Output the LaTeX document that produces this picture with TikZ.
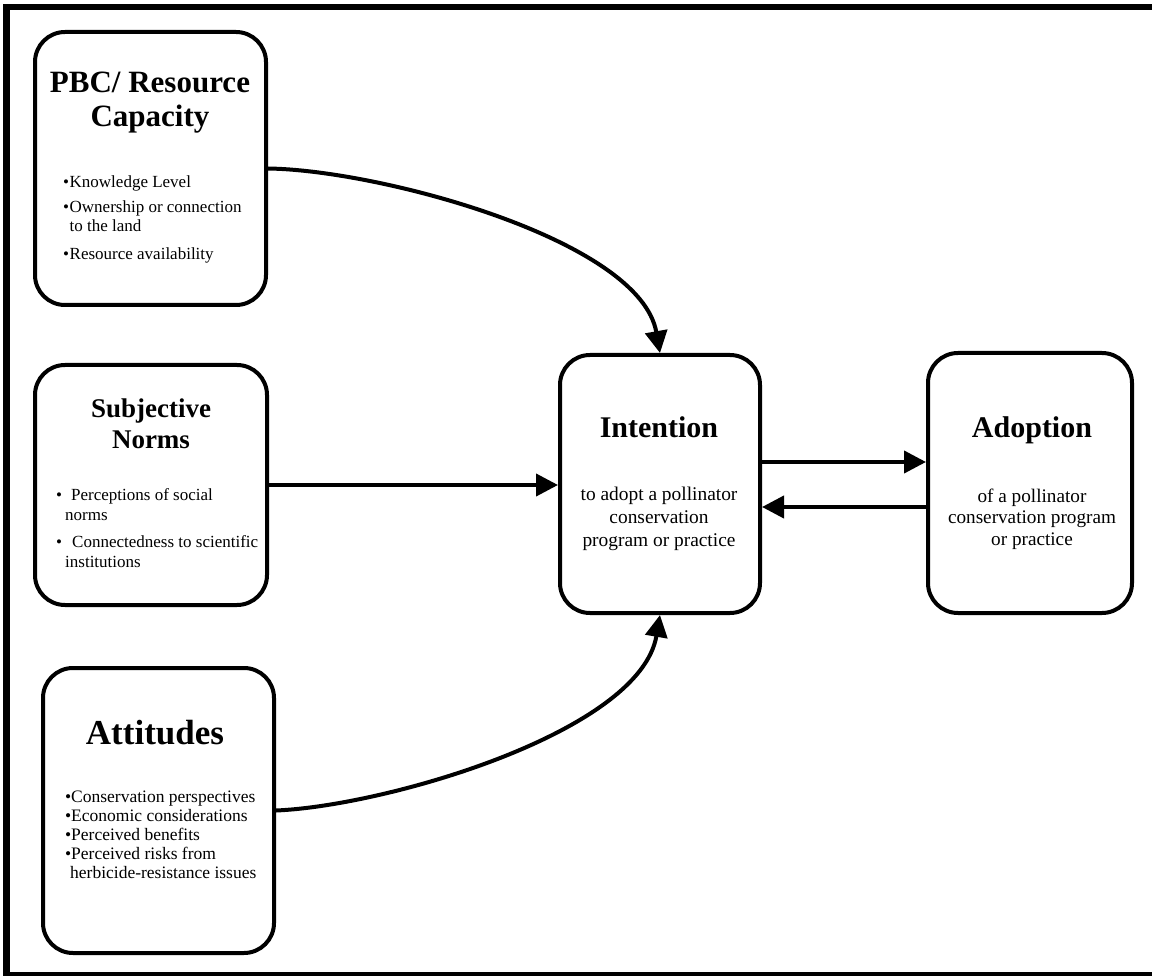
\documentclass[tikz,border=0pt]{standalone}
\usepackage{fontspec}
\setmainfont{Liberation Serif}
\usetikzlibrary{arrows.meta}
\begin{document}
\begin{tikzpicture}[x=1pt,y=-1pt,
  box/.style={draw,line width=4pt,rounded corners=30pt,inner sep=0pt,fill=white},
  ttl/.style={anchor=base,align=center,inner sep=0pt,font=\bfseries},
  bul/.style={anchor=base west,align=left,inner sep=0pt},
  txt/.style={anchor=base,align=center,inner sep=0pt},
  conn/.style={line width=4pt,-{Triangle[length=22pt,width=22pt]}}]
\clip (0,0) rectangle (1152,976);
\fill[white] (0,0) rectangle (1152,976);
\draw[line width=6.5pt] (6.5,7) rectangle (1165,975);

% boxes
\node[box,minimum width=231pt,minimum height=273pt] (pbc) at (150.5,168.5) {};
\node[box,minimum width=232pt,minimum height=240pt] (sn) at (151,485) {};
\node[box,minimum width=231pt,minimum height=285pt] (att) at (158.5,810.5) {};
\node[box,minimum width=200pt,minimum height=258pt] (int) at (660,484) {};
\node[box,minimum width=204pt,minimum height=260pt] (ad) at (1030,483) {};

% titles (base = baseline of the last line)
\node[ttl,font=\bfseries\fontsize{31}{34}\selectfont] (pbct) at (150,127) {PBC/ Resource\\Capacity};
\node[ttl,font=\bfseries\fontsize{27}{32}\selectfont] (snt) at (151,449) {Subjective\\Norms};
\node[ttl,font=\bfseries\fontsize{35}{40}\selectfont] (attt) at (155,744) {Attitudes};
\node[ttl,font=\bfseries\fontsize{30}{34}\selectfont] (intt) at (659,437) {Intention};
\node[ttl,font=\bfseries\fontsize{30}{34}\selectfont] (adt) at (1032,437) {Adoption};

% bodies
\node[txt,font=\fontsize{19.4}{23}\selectfont] (intb) at (659,546) {to adopt a pollinator\\conservation\\program or practice};
\node[txt,font=\fontsize{19.2}{21.5}\selectfont] (adb) at (1032,545) {of a pollinator\\conservation program\\or practice};
\node[bul,font=\fontsize{17}{19}\selectfont] (pbcb) at (63,260) {%
  \makebox[6.5pt][l]{\textbullet}Knowledge Level\\[6pt]
  \makebox[6.5pt][l]{\textbullet}Ownership or connection\\
  \hspace*{6.5pt}to the land\\[9pt]
  \makebox[6.5pt][l]{\textbullet}Resource availability};
\node[bul,font=\fontsize{17}{20.5}\selectfont] (snb) at (56,567.5) {%
  \makebox[15pt][l]{\textbullet}Perceptions of social\\
  \hspace*{9pt}norms\\[6pt]
  \makebox[16pt][l]{\textbullet}Connectedness to scientific\\
  \hspace*{9pt}institutions};
\node[bul,font=\fontsize{17.5}{19}\selectfont] (attb) at (65,878) {%
  \makebox[6pt][l]{\textbullet}Conservation perspectives\\
  \makebox[6pt][l]{\textbullet}Economic considerations\\
  \makebox[6pt][l]{\textbullet}Perceived benefits\\
  \makebox[6pt][l]{\textbullet}Perceived risks from\\
  \hspace*{5pt}herbicide-resistance issues};

% connectors
\draw[conn] (pbc.east) .. controls (380,170) and (640,240) .. (int.north);
\draw[conn] (sn.east) -- (sn.east -| int.west);
\draw[conn] (att.east) .. controls (386,806) and (640,732) .. (int.south);
\draw[conn] ([yshift=22pt]int.east) -- ([yshift=22pt]int.east -| ad.west);
\draw[conn] ([yshift=-24pt]ad.west) -- ([yshift=-24pt]ad.west -| int.east);
\end{tikzpicture}
\end{document}
